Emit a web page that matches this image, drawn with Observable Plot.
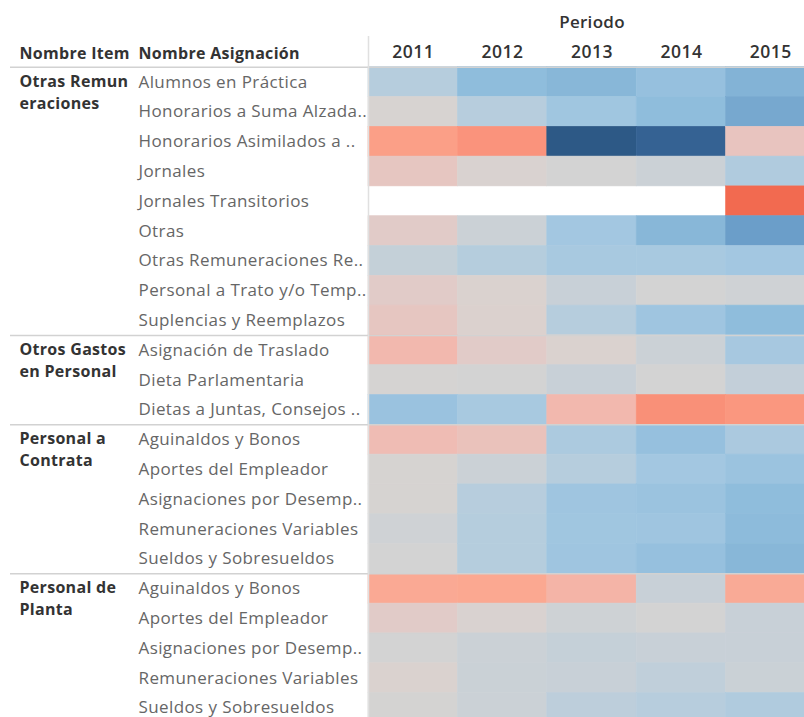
<!DOCTYPE html>
<html>
<head>
<meta charset="utf-8">
<script src="https://cdn.jsdelivr.net/npm/d3@7"></script>
<script src="https://cdn.jsdelivr.net/npm/@observablehq/plot@0.6"></script>
<style>
  html, body { margin: 0; padding: 0; background: #fff; overflow: hidden; }
  .ls3 text { letter-spacing: 0.3px; }
  .ls4 text { letter-spacing: 0.4px; }
  .ls5 text { letter-spacing: 0.5px; }
</style>
</head>
<body>
<div id="chart"></div>
<script>
const years = ["2011", "2012", "2013", "2014", "2015"];
const items = ["Otras Remun\neraciones", "Otros Gastos\nen Personal", "Personal a\nContrata", "Personal de\nPlanta"];
const itemSizes = [9, 3, 5, 5];
const headerItem = "Nombre Item";
const headerAsignacion = "Nombre Asignación";
const headerPeriodo = "Periodo";
const asignaciones = [
  "Alumnos en Práctica",
  "Honorarios a Suma Alzada..",
  "Honorarios Asimilados a ..",
  "Jornales",
  "Jornales Transitorios",
  "Otras",
  "Otras Remuneraciones Re..",
  "Personal a Trato y/o Temp..",
  "Suplencias y Reemplazos",
  "Asignación de Traslado",
  "Dieta Parlamentaria",
  "Dietas a Juntas, Consejos ..",
  "Aguinaldos y Bonos",
  "Aportes del Empleador",
  "Asignaciones por Desemp..",
  "Remuneraciones Variables",
  "Sueldos y Sobresueldos",
  "Aguinaldos y Bonos",
  "Aportes del Empleador",
  "Asignaciones por Desemp..",
  "Remuneraciones Variables",
  "Sueldos y Sobresueldos"
];
// estimated diverging values (negative = red, positive = blue), one row per asignación, columns 2011..2015
const values = [
  [0.25, 0.55, 0.58, 0.50, 0.60],
  [-0.05, 0.24, 0.42, 0.55, 0.65],
  [-0.65, -0.75, 1.00, 0.90, -0.30],
  [-0.28, -0.08, 0.00, 0.10, 0.30],
  [null, null, null, null, -1.00],
  [-0.20, 0.10, 0.40, 0.58, 0.70],
  [0.15, 0.26, 0.36, 0.36, 0.40],
  [-0.20, -0.10, 0.12, 0.00, 0.05],
  [-0.28, -0.12, 0.25, 0.43, 0.55],
  [-0.45, -0.20, -0.10, 0.10, 0.37],
  [-0.03, 0.00, 0.12, 0.00, 0.16],
  [0.47, 0.36, -0.45, -0.77, -0.72],
  [-0.40, -0.33, 0.33, 0.50, 0.34],
  [-0.04, 0.10, 0.25, 0.40, 0.46],
  [-0.04, 0.24, 0.43, 0.46, 0.55],
  [0.05, 0.26, 0.42, 0.43, 0.56],
  [0.00, 0.26, 0.43, 0.50, 0.58],
  [-0.57, -0.58, -0.48, 0.12, -0.56],
  [-0.20, -0.08, 0.06, 0.00, 0.12],
  [0.00, 0.10, 0.14, 0.12, 0.12],
  [-0.10, 0.11, 0.12, 0.18, 0.11],
  [-0.02, 0.10, 0.20, 0.24, 0.30]
];
const colorStops = [-1, -0.75, -0.6, -0.45, -0.25, -0.1, 0, 0.1, 0.25, 0.4, 0.55, 0.7, 0.9, 1];
const colorRange = ["#f26a50", "#fa937c", "#fca58d", "#f2b8ae", "#e4c8c4", "#dad2cf", "#d3d3d3",
                    "#cbd1d6", "#b6cddd", "#a3c7e1", "#8fbddc", "#6b9ec9", "#356293", "#2d5986"];

// build tables
const cells = [];
values.forEach((row, i) => row.forEach((v, j) => {
  if (v != null) cells.push({row: i, col: j, value: v});
}));
const rowLabels = asignaciones.map((label, i) => ({row: i, label}));
const groups = [];
let start = 0;
items.forEach((name, k) => { groups.push({row: start, label: name}); start += itemSizes[k]; });
const separators = [];
{ let s = 0; itemSizes.forEach(n => { separators.push(s); s += n; }); }
const yearLabels = years.map((y, j) => ({col: j, label: y}));

const font = "'Open Sans', sans-serif";
const rowH = 29.8;
const colW = 89.4;
const x0 = 368, y0 = 66.7;

const chart = Plot.plot({
  width: 804,
  height: 717,
  margin: 0,
  style: {fontFamily: font, background: "#fff", overflow: "hidden"},
  x: {type: "linear", domain: [0, 5], range: [x0, x0 + 5 * colW], axis: null},
  y: {type: "linear", domain: [0, 22], range: [y0, y0 + 22 * rowH], axis: null},
  color: {type: "linear", domain: colorStops, range: colorRange, clamp: true},
  marks: [
    Plot.rect(cells, {x1: "col", x2: d => d.col + 1, y1: "row", y2: d => d.row + 1,
      fill: "value", stroke: "value", strokeWidth: 0.6}),
    Plot.ruleY(separators, {stroke: "#d2d2d2", strokeWidth: 1.5, insetLeft: 10}),
    Plot.ruleX([0], {stroke: "#e0e0e0", strokeWidth: 1.5, insetTop: 36}),
    Plot.text(rowLabels, {y: d => d.row + 0.5, text: "label", frameAnchor: "left", dx: 138,
      textAnchor: "start", fill: "#666", fontSize: 17, className: "ls4"}),
    Plot.text(groups, {y: d => d.row + 0.5, text: "label", frameAnchor: "left", dx: 19,
      textAnchor: "start", lineAnchor: "top", dy: -11, lineHeight: 1.38, fill: "#333",
      fontSize: 16, fontWeight: "bold", className: "ls3"}),
    Plot.text(yearLabels, {x: d => d.col + 0.5, text: "label", frameAnchor: "top", dy: 52,
      lineAnchor: "middle", fill: "#333", fontSize: 17.5, fontWeight: 600, className: "ls5"}),
    Plot.text([headerPeriodo], {x: () => 2.5, text: d => d, frameAnchor: "top", dy: 22,
      lineAnchor: "middle", fill: "#333", fontSize: 17, fontWeight: 600, className: "ls3"}),
    Plot.text([headerItem], {text: d => d, frameAnchor: "top-left", dx: 19, dy: 53,
      lineAnchor: "middle", textAnchor: "start", fill: "#333",
      fontSize: 16, fontWeight: "bold", className: "ls3"}),
    Plot.text([headerAsignacion], {text: d => d, frameAnchor: "top-left", dx: 138, dy: 53,
      lineAnchor: "middle", textAnchor: "start", fill: "#333",
      fontSize: 16, fontWeight: "bold", className: "ls3"})
  ]
});
document.getElementById("chart").appendChild(chart);
</script>
</body>
</html>
